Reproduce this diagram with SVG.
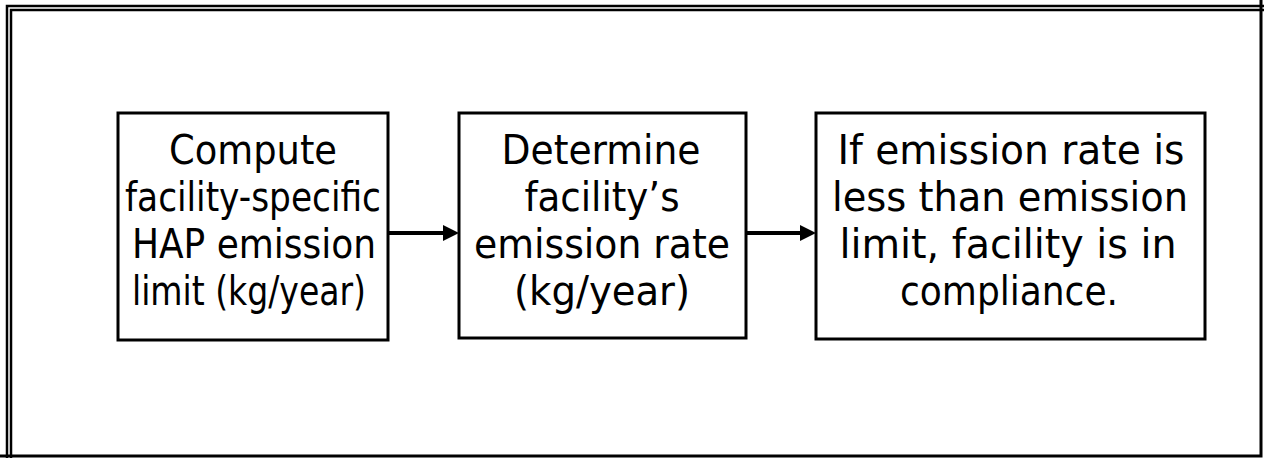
<svg xmlns="http://www.w3.org/2000/svg" width="1264" height="458" viewBox="0 0 1264 458">
<defs>
<style>
.box{fill:#fff;stroke:#000;stroke-width:3}
.t{font-family:"DejaVu Sans Condensed","DejaVu Sans",Verdana,sans-serif;font-size:40px;fill:#000;text-anchor:middle}
.c{stroke:#000;stroke-width:4;fill:none}
</style>
<marker id="ah" markerWidth="4" markerHeight="4" refX="3" refY="2" orient="auto" markerUnits="strokeWidth">
<path d="M0,0 L4,2 L0,4 Z" fill="#000"/>
</marker>
</defs>
<rect width="1264" height="458" fill="#fff"/>
<g id="frame">
<path d="M7,458 V6 H1264" fill="none" stroke="#000" stroke-width="2.5"/>
<path d="M11,458 V10 H1264" fill="none" stroke="#000" stroke-width="2.5"/>
<path d="M1261,0 V456 H0" fill="none" stroke="#000" stroke-width="3"/>
</g>
<g id="connectors">
<line class="c" x1="388" y1="233" x2="455" y2="233" marker-end="url(#ah)"/>
<line class="c" x1="746" y1="233" x2="812" y2="233" marker-end="url(#ah)"/>
</g>
<g id="node1">
<rect class="box" x="118" y="113" width="270" height="227"/>
<text class="t" x="253" y="164" textLength="168" lengthAdjust="spacingAndGlyphs">Compute</text>
<text class="t" x="253" y="211" textLength="256" lengthAdjust="spacingAndGlyphs">facility-specific</text>
<text class="t" x="254" y="258" textLength="244" lengthAdjust="spacingAndGlyphs">HAP emission</text>
<text class="t" x="249" y="305" textLength="234" lengthAdjust="spacingAndGlyphs">limit (kg/year)</text>
</g>
<g id="node2">
<rect class="box" x="459" y="113" width="287" height="225"/>
<text class="t" x="601" y="164" textLength="199" lengthAdjust="spacingAndGlyphs">Determine</text>
<text class="t" x="602" y="211" textLength="155" lengthAdjust="spacingAndGlyphs">facility’s</text>
<text class="t" x="602" y="258" textLength="256" lengthAdjust="spacingAndGlyphs">emission rate</text>
<text class="t" x="602" y="305" textLength="176" lengthAdjust="spacingAndGlyphs">(kg/year)</text>
</g>
<g id="node3">
<rect class="box" x="816" y="113" width="389" height="226"/>
<text class="t" x="1011" y="164" textLength="347" lengthAdjust="spacingAndGlyphs">If emission rate is</text>
<text class="t" x="1010" y="211" textLength="356" lengthAdjust="spacingAndGlyphs">less than emission</text>
<text class="t" x="1008" y="258" textLength="337" lengthAdjust="spacingAndGlyphs">limit, facility is in</text>
<text class="t" x="1009" y="305" textLength="218" lengthAdjust="spacingAndGlyphs">compliance.</text>
</g>
</svg>
